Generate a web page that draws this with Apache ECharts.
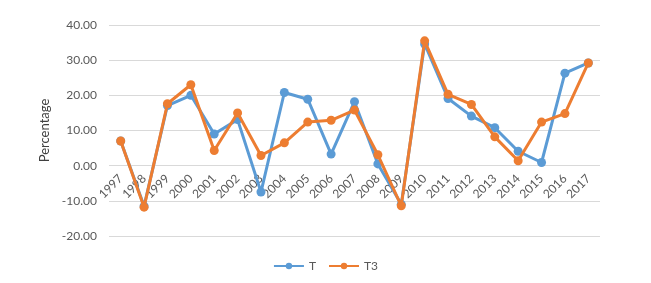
<!DOCTYPE html>
<html><head><meta charset="utf-8">
<script src="https://cdn.jsdelivr.net/npm/echarts@6/dist/echarts.min.js"></script>
<style>html,body{margin:0;padding:0;background:#fff}#c{width:651px;height:283px}</style>
</head><body><div id="c"></div>
<script>
const years = ['1997','1998','1999','2000','2001','2002','2003','2004','2005','2006','2007','2008','2009','2010','2011','2012','2013','2014','2015','2016','2017'];
const seriesT  = [7.0, -11.5, 17.1, 20.0, 9.0, 13.1, -7.5, 20.8, 18.9, 3.3, 18.2, 0.5, -11.0, 34.6, 19.1, 14.1, 10.8, 4.1, 0.9, 26.3, 29.2];
const seriesT3 = [7.0, -11.8, 17.6, 23.0, 4.3, 15.0, 2.9, 6.5, 12.4, 12.9, 15.8, 3.1, -11.4, 35.5, 20.3, 17.4, 8.2, 1.4, 12.4, 14.8, 29.2];
const yTicks = {min: -20, max: 40, interval: 10};

const chart = echarts.init(document.getElementById('c'));
const font = 'Lato, "Open Sans", sans-serif';
const gridTop = 25, gridBottom = 47, H = 283;
const plotH = H - gridTop - gridBottom;
// place the category axis on the zero line (as in the original)
const zeroOffset = -plotH * (0 - yTicks.min) / (yTicks.max - yTicks.min);
function mk(name, data, color){
  return {name, type:'line', data, symbol:'circle', symbolSize:9,
    lineStyle:{width:3, color}, itemStyle:{color}, z: name==='T3'?3:2};
}
chart.setOption({
  animation:false,
  textStyle:{fontFamily:font},
  grid:{left:109, right:51, top:gridTop, bottom:gridBottom},
  legend:{bottom:6, left:'center', itemWidth:30, itemHeight:8, itemGap:12,
    textStyle:{fontFamily:font, fontSize:12, color:'#595959'},
    data:['T','T3']},
  xAxis:{type:'category', data:years, boundaryGap:true, offset:zeroOffset,
    axisLine:{show:false, onZero:false}, axisTick:{show:false},
    axisLabel:{rotate:45, interval:0, margin:11, color:'#595959', fontSize:12, fontFamily:font}},
  yAxis:{type:'value', min:yTicks.min, max:yTicks.max, interval:yTicks.interval,
    name:'Percentage', nameLocation:'middle', nameGap:52, nameRotate:90,
    nameTextStyle:{fontSize:13, color:'#404040', fontFamily:font},
    axisLabel:{formatter:v=>v.toFixed(2), color:'#595959', fontSize:12, margin:12, fontFamily:font},
    splitLine:{lineStyle:{color:'#d9d9d9', width:1}}, axisLine:{show:false}, axisTick:{show:false}},
  series:[mk('T', seriesT, '#5B9BD5'), mk('T3', seriesT3, '#ED7D31')]
});
</script></body></html>
